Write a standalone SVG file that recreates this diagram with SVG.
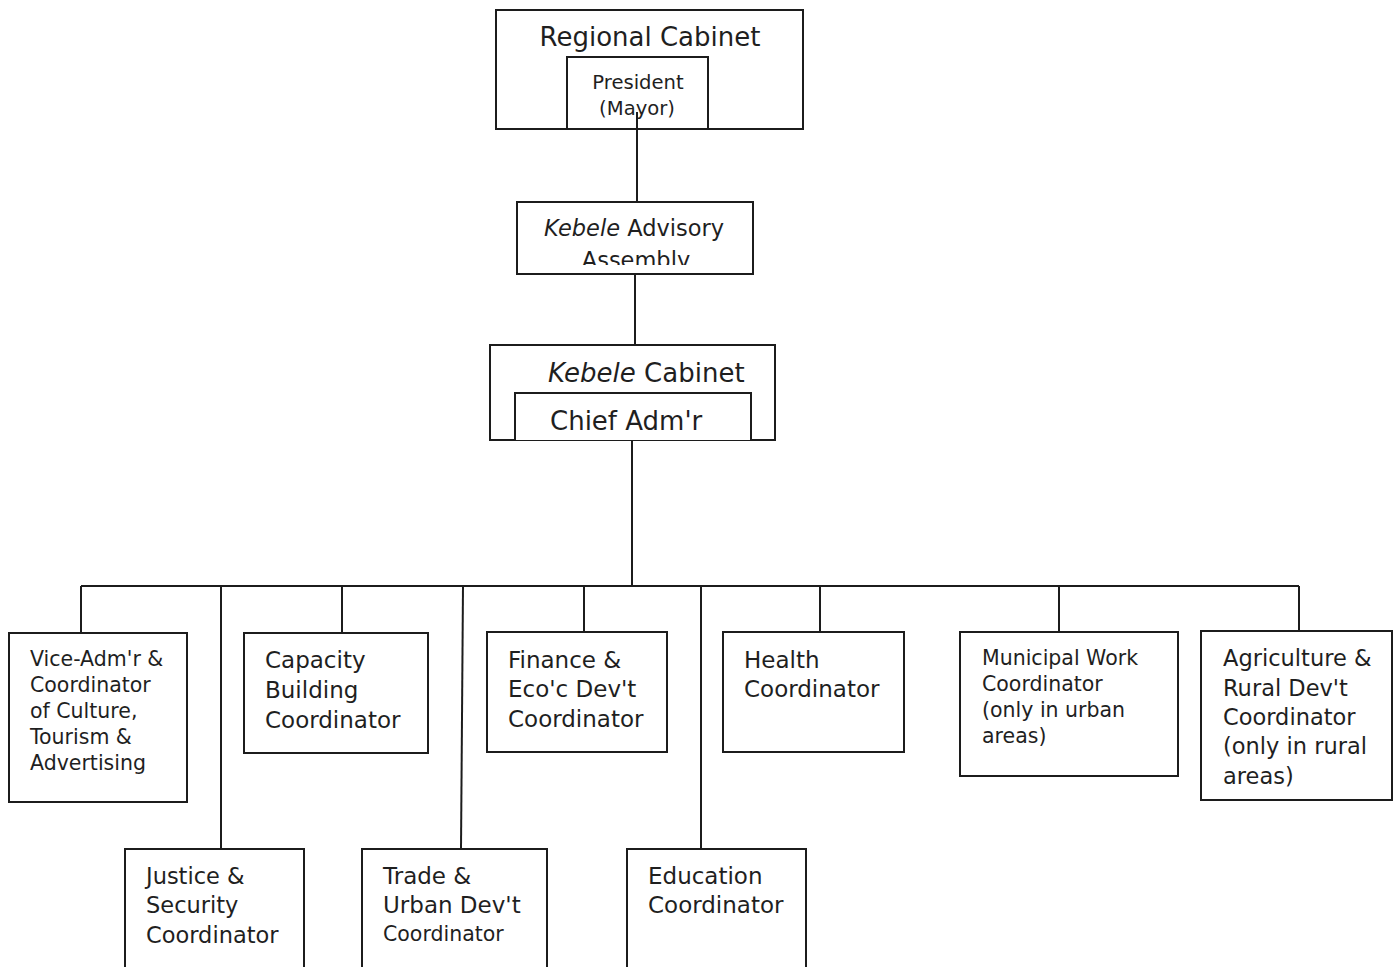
<svg xmlns="http://www.w3.org/2000/svg" width="1397" height="967" viewBox="0 0 1397 967">
  <style>
    .box { fill: #ffffff; stroke: #1c1c1c; stroke-width: 2; }
    .wire { fill: none; stroke: #1c1c1c; stroke-width: 2; }
    text { font-family: "DejaVu Sans", "Liberation Sans", sans-serif; fill: #1f1f1f; }
    .t26 { font-size: 26px; }
    .t23 { font-size: 23px; }
    .t22 { font-size: 22.5px; }
    .t20 { font-size: 20.5px; }
    .t19 { font-size: 19.6px; }
    .it { font-style: italic; }
  </style>
  <defs>
    <clipPath id="assemblyClip">
      <rect x="517" y="202" width="236" height="63"/>
    </clipPath>
  </defs>
  <rect width="1397" height="967" fill="#ffffff"/>

  <g id="regional-cabinet">
    <rect class="box" x="496" y="10" width="307" height="119"/>
    <text class="t26" x="650" y="46" text-anchor="middle">Regional Cabinet</text>
  </g>
  <g id="president">
    <rect class="box" x="567" y="57" width="141" height="72"/>
    <text class="t19" x="638" y="89" text-anchor="middle">President</text>
    <text class="t19" x="637" y="115" text-anchor="middle">(Mayor)</text>
  </g>

  <g id="connectors">
    <path class="wire" d="M637 112 V202"/>
    <path class="wire" d="M635 274 V345"/>
    <path class="wire" d="M632 440 V586"/>
    <path class="wire" d="M81 586 H1299"/>
    <path class="wire" d="M81 586 V633"/>
    <path class="wire" d="M221 586 V849"/>
    <path class="wire" d="M342 586 V633"/>
    <path class="wire" d="M463 586 L461 849"/>
    <path class="wire" d="M584 586 V632"/>
    <path class="wire" d="M701 586 V849"/>
    <path class="wire" d="M820 586 V632"/>
    <path class="wire" d="M1059 586 V632"/>
    <path class="wire" d="M1299 586 V631"/>
  </g>

  <g id="advisory-assembly">
    <rect class="box" x="517" y="202" width="236" height="72"/>
    <text class="t22" x="544" y="236"><tspan class="it">Kebele</tspan> Advisory</text>
    <text class="t22" x="636" y="268" text-anchor="middle" clip-path="url(#assemblyClip)">Assembly</text>
  </g>

  <g id="kebele-cabinet">
    <rect class="box" x="490" y="345" width="285" height="95"/>
    <text class="t26" x="548" y="382"><tspan class="it">Kebele</tspan> Cabinet</text>
  </g>
  <g id="chief-admr">
    <path class="box" d="M515 440 V393 H751 V440"/>
    <text class="t26" x="550" y="430">Chief Adm'r</text>
  </g>

  <g id="vice-admr">
    <rect class="box" x="9" y="633" width="178" height="169"/>
    <text class="t20" x="30" y="666">Vice-Adm'r &amp;</text>
    <text class="t20" x="30" y="692">Coordinator</text>
    <text class="t20" x="30" y="718">of Culture,</text>
    <text class="t20" x="30" y="744">Tourism &amp;</text>
    <text class="t20" x="30" y="770">Advertising</text>
  </g>

  <g id="capacity-building">
    <rect class="box" x="244" y="633" width="184" height="120"/>
    <text class="t23" x="265" y="668">Capacity</text>
    <text class="t23" x="265" y="698">Building</text>
    <text class="t23" x="265" y="728">Coordinator</text>
  </g>

  <g id="finance">
    <rect class="box" x="487" y="632" width="180" height="120"/>
    <text class="t23" x="508" y="668">Finance &amp;</text>
    <text class="t23" x="508" y="697">Eco'c Dev't</text>
    <text class="t23" x="508" y="727">Coordinator</text>
  </g>

  <g id="health">
    <rect class="box" x="723" y="632" width="181" height="120"/>
    <text class="t23" x="744" y="668">Health</text>
    <text class="t23" x="744" y="697">Coordinator</text>
  </g>

  <g id="municipal-work">
    <rect class="box" x="960" y="632" width="218" height="144"/>
    <text class="t20" x="982" y="665">Municipal Work</text>
    <text class="t20" x="982" y="691">Coordinator</text>
    <text class="t20" x="982" y="717">(only in urban</text>
    <text class="t20" x="982" y="743">areas)</text>
  </g>

  <g id="agriculture">
    <rect class="box" x="1201" y="631" width="191" height="169"/>
    <text class="t22" x="1223" y="666">Agriculture &amp;</text>
    <text class="t22" x="1223" y="696">Rural Dev't</text>
    <text class="t22" x="1223" y="725">Coordinator</text>
    <text class="t22" x="1223" y="754">(only in rural</text>
    <text class="t22" x="1223" y="784">areas)</text>
  </g>

  <g id="justice">
    <rect class="box" x="125" y="849" width="179" height="130"/>
    <text class="t22" x="146" y="884">Justice &amp;</text>
    <text class="t22" x="146" y="913">Security</text>
    <text class="t22" x="146" y="943">Coordinator</text>
  </g>

  <g id="trade">
    <rect class="box" x="362" y="849" width="185" height="130"/>
    <text class="t23" x="383" y="884">Trade &amp;</text>
    <text class="t23" x="383" y="913">Urban Dev't</text>
    <text class="t20" x="383" y="941">Coordinator</text>
  </g>

  <g id="education">
    <rect class="box" x="627" y="849" width="179" height="130"/>
    <text class="t23" x="648" y="884">Education</text>
    <text class="t23" x="648" y="913">Coordinator</text>
  </g>
</svg>
